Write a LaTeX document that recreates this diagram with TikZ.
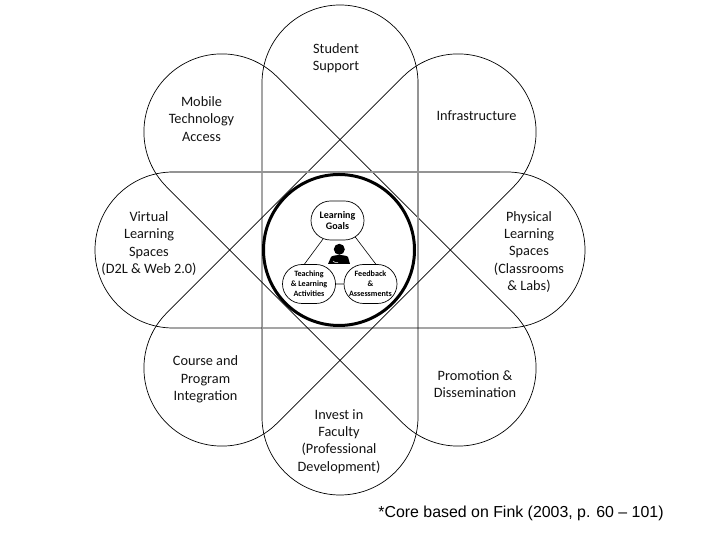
\documentclass[tikz,border=0pt]{standalone}
\usepackage{fontspec}
\setmainfont{Carlito}
\newfontfamily\notefont{Liberation Sans}
\usetikzlibrary{shapes,positioning,calc}
\definecolor{inkgray}{gray}{0.08}
\definecolor{seamgray}{gray}{0.58}
\tikzset{
  petal/.style={draw=black,line width=0.7pt,rounded corners=78pt},
  seam/.style={draw=seamgray,line width=1.1pt},
  petaltext/.style={align=center,text=inkgray,inner sep=0pt,font=\fontsize{14.3}{17.4}\selectfont},
  corebox/.style={draw=black,line width=0.7pt,fill=white,rounded rectangle,minimum width=53pt,minimum height=39pt,inner sep=0pt,align=center,font=\bfseries\fontsize{8.1}{10}\selectfont},
  link/.style={line width=0.6pt}
}
\begin{document}
\begin{tikzpicture}[x=1pt,y=1pt]
        \useasboundingbox (0,0) rectangle (720,540);
        \fill[white] (0,0) rectangle (720,540);

        % Four long bands give the eight petals
        \draw[petal] (95,212) rectangle (585,368);
        \draw[petal,rotate around={90:(340,290)}] (95,212) rectangle (585,368);
        \draw[petal,rotate around={45:(340,290)}] (95,212) rectangle (585,368);
        \draw[petal,rotate around={-45:(340,290)}] (95,212) rectangle (585,368);

        % Lighter parts of the straight edges
        \draw[seam] (262.5,240) -- (262.5,120);
        \draw[seam] (418,460) -- (418,280);
        \draw[seam] (170,368) -- (500,368);

        % Core ring
        \node (ring) [circle,draw=black,fill=white,line width=3pt,minimum size=151pt,inner sep=0pt] at (339,290) {};

        % Core nodes
        \node (goals) [corebox,font=\bfseries\fontsize{10}{11.7}\selectfont] at (337.5,319.5) {Learning\\Goals};
        \node (teach) [corebox] at (309,256) {Teaching\\\& Learning\\Activities};
        \node (feed) [corebox] at (370.5,256) {Feedback\\\&\\Assessments};
        \draw[link] (goals.232) -- (teach.103);
        \draw[link] (goals.-43) -- (feed.75);
        \draw[link] (teach) -- (feed);

        % Person in the middle
        \fill[black] (339.3,290.7) circle (5.5);
        \fill[black] (328,276) -- (331,283) .. controls (333,285.5) and (346,285.5) .. (348,283) -- (350,276) -- cycle;
        \draw[white,line width=0.5pt] (333,279) -- (335,277.5) -- (338,277.5);

        % Petal labels
        \node (support) [petaltext] at (336,482) {Student\\Support};
        \node (mobile) [petaltext] at (201.5,421) {Mobile\\Technology\\Access};
        \node (infra) [petaltext] at (476.5,424) {Infrastructure};
        \node (virtual) [petaltext] at (149,296.5) {Virtual\\Learning\\Spaces\\(D2L \& Web 2.0)};
        \node (physical) [petaltext] at (529,288) {Physical\\Learning\\Spaces\\(Classrooms\\\& Labs)};
        \node (course) [petaltext] at (205.5,160.5) {Course and\\Program\\Integration};
        \node (promo) [petaltext] at (475,156) {Promotion \&\\Dissemination};
        \node (invest) [petaltext] at (339,98.5) {Invest in\\Faculty\\(Professional\\Development)};

        % Source note
        \node (note) [inner sep=0pt,font=\notefont\fontsize{15.9}{18}\selectfont] at (521,26.5) {*Core based on Fink (2003, p. 60 – 101)};
\end{tikzpicture}
\end{document}
